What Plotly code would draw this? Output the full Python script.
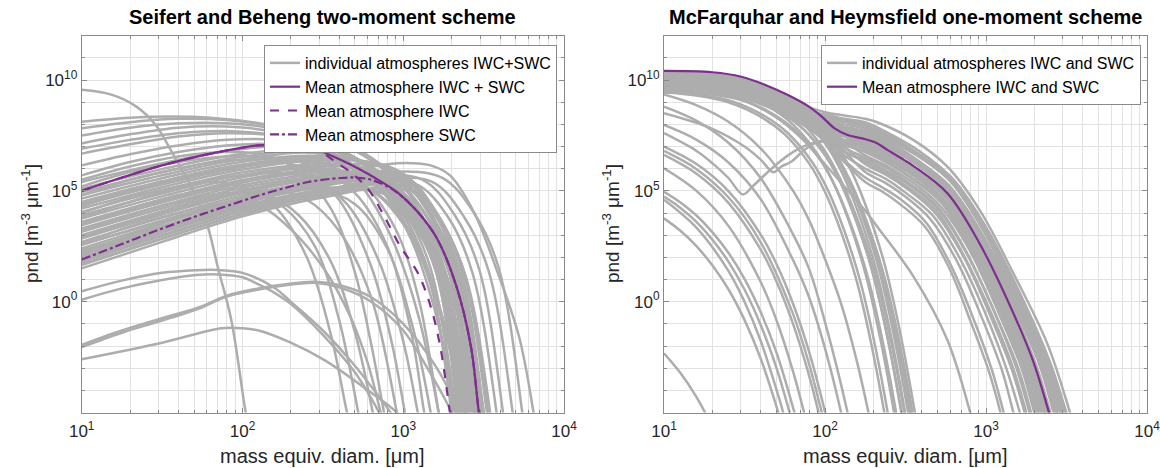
import plotly.graph_objects as go

# ------------------------------------------------------------------
# Values, stored as log10 numbers:
#   *_X : log10 of mass equivalent diameter [um]
#   *_Y : log10 of particle number density [m^-3 um^-1]
# ------------------------------------------------------------------

# ---------- Left panel: Seifert and Beheng two-moment scheme ----------
SB_MEAN_TOTAL_X = [1.0, 1.25, 1.5, 1.75, 2.0, 2.1, 2.25, 2.41, 2.61, 2.82, 2.96, 3.09, 3.21, 3.33, 3.42, 3.47, 3.5]
SB_MEAN_TOTAL_Y = [5.0, 5.6, 6.15, 6.6, 6.95, 7.05, 7.05, 6.98, 6.4, 5.6, 4.95, 4.05, 2.85, 0.7, -2.0, -5.0, -6.5]

SB_MEAN_IWC_X = [1.0, 1.25, 1.5, 1.75, 2.0, 2.1, 2.25, 2.41, 2.5, 2.58, 2.67, 2.78, 2.88, 2.98, 3.09, 3.17, 3.23, 3.29, 3.32]
SB_MEAN_IWC_Y = [5.0, 5.6, 6.15, 6.6, 6.95, 7.05, 7.04, 6.94, 6.7, 6.3, 5.85, 5.09, 3.88, 2.51, 1.3, -0.21, -2.03, -5.0, -6.5]

SB_MEAN_SWC_X = [1.0, 1.25, 1.5, 1.75, 2.0, 2.1, 2.25, 2.41, 2.61, 2.71, 2.8, 2.9, 2.96, 3.09, 3.21, 3.33, 3.42, 3.47, 3.5]
SB_MEAN_SWC_Y = [1.9, 2.6, 3.3, 3.95, 4.55, 4.79, 5.1, 5.4, 5.58, 5.6, 5.5, 5.2, 4.93, 4.04, 2.84, 0.69, -2.01, -5.0, -6.5]

SB_UPPER = [
    ([1.0, 1.3, 1.55, 1.8, 2.1, 2.4, 2.6, 2.8, 3.0, 3.15, 3.3, 3.42, 3.5], [8.12, 8.3, 8.35, 8.3, 8.05, 7.6, 7.2, 6.5, 5.2, 3.4, 0.5, -3.0, -6.0]),
    ([1.0, 1.3, 1.6, 1.9, 2.2, 2.5, 2.7, 2.9, 3.05, 3.2, 3.35, 3.45], [7.82, 8.1, 8.25, 8.2, 7.9, 7.35, 6.8, 5.8, 4.4, 2.0, -1.8, -5.2]),
    ([1.0, 1.3, 1.6, 1.9, 2.2, 2.5, 2.7, 2.85, 3.0, 3.15, 3.3, 3.4], [7.5, 7.85, 8.05, 8.05, 7.8, 7.2, 6.5, 5.6, 4.0, 1.5, -2.2, -5.5]),
    ([1.0, 1.3, 1.6, 1.9, 2.2, 2.45, 2.65, 2.8, 2.95, 3.1, 3.22, 3.27], [7.14, 7.55, 7.85, 7.9, 7.65, 7.0, 6.0, 4.6, 2.5, -0.8, -5.0, -7.0]),
    ([1.0, 1.3, 1.6, 1.9, 2.2, 2.5, 2.7, 2.9, 3.05, 3.2, 3.33, 3.38], [6.9, 7.3, 7.6, 7.7, 7.5, 6.9, 6.1, 4.7, 2.8, -0.5, -5.0, -7.0]),
    ([1.0, 1.3, 1.6, 1.9, 2.2, 2.5, 2.75, 2.95, 3.15, 3.3, 3.45, 3.5], [6.68, 7.1, 7.45, 7.6, 7.5, 7.0, 6.2, 4.9, 2.6, -0.5, -5.0, -7.0]),
    ([1.0, 1.3, 1.6, 1.9, 2.2, 2.5, 2.75, 2.95, 3.15, 3.35, 3.5, 3.55], [6.15, 6.65, 7.05, 7.3, 7.3, 6.95, 6.2, 5.0, 2.8, -0.8, -5.0, -7.0]),
    ([1.0, 1.3, 1.6, 1.9, 2.2, 2.5, 2.75, 2.9, 3.05, 3.2, 3.35, 3.4], [5.7, 6.3, 6.75, 7.05, 7.1, 6.75, 5.9, 4.8, 3.0, 0.2, -4.0, -5.5]),
]

SB_EARLY = [
    ([1.0, 1.3, 1.6, 1.85, 2.1, 2.3, 2.51, 2.67, 2.78, 2.86, 2.9], [2.6, 3.4, 4.0, 4.4, 4.33, 3.27, 1.45, -0.67, -2.8, -5.0, -6.0]),
    ([1.0, 1.3, 1.6, 1.85, 2.05, 2.25, 2.45, 2.6, 2.72, 2.76], [3.5, 4.2, 4.8, 5.1, 5.0, 4.3, 2.5, -0.8, -5.0, -6.5]),
    ([1.0, 1.3, 1.6, 1.8, 2.0, 2.2, 2.4, 2.55, 2.65, 2.7], [4.0, 4.7, 5.2, 5.4, 5.2, 4.3, 2.0, -1.5, -5.0, -6.5]),
    ([1.0, 1.3, 1.6, 1.9, 2.15, 2.35, 2.55, 2.7, 2.81, 2.85], [3.2, 3.9, 4.5, 4.9, 4.8, 3.9, 1.8, -1.4, -5.0, -6.5]),
    ([1.0, 1.3, 1.6, 1.9, 2.2, 2.4, 2.6, 2.8, 2.96, 3.0], [2.9, 3.6, 4.3, 4.85, 5.0, 4.6, 3.2, 0.2, -5.0, -6.5]),
    ([1.0, 1.3, 1.6, 1.9, 2.15, 2.4, 2.6, 2.8, 2.93, 3.01, 3.05], [5.2, 5.85, 6.3, 6.55, 6.5, 5.9, 4.6, 1.6, -1.9, -5.0, -6.5]),
    ([1.0, 1.3, 1.6, 1.9, 2.2, 2.45, 2.65, 2.85, 3.0, 3.09, 3.13], [3.8, 4.5, 5.15, 5.6, 5.8, 5.5, 4.4, 1.8, -1.8, -5.0, -6.5]),
    ([1.0, 1.3, 1.6, 1.9, 2.2, 2.45, 2.7, 2.9, 3.05, 3.13, 3.17], [4.8, 5.5, 6.0, 6.35, 6.45, 6.1, 4.9, 2.5, -1.4, -5.0, -6.5]),
    ([1.0, 1.3, 1.6, 1.9, 2.2, 2.45, 2.7, 2.9, 3.05, 3.17, 3.2], [2.2, 3.0, 3.8, 4.5, 5.0, 5.1, 4.4, 2.4, -0.9, -5.0, -6.5]),
    ([1.0, 1.3, 1.6, 1.9, 2.2, 2.5, 2.75, 2.95, 3.1, 3.22, 3.26], [4.3, 5.0, 5.6, 6.05, 6.3, 6.2, 5.3, 3.3, 0.0, -5.0, -6.5]),
    ([1.0, 1.3, 1.6, 1.9, 2.15, 2.35, 2.55, 2.7, 2.8, 2.88, 2.92], [5.5, 6.1, 6.55, 6.75, 6.6, 5.9, 4.2, 1.3, -1.9, -5.0, -6.5]),
]

SB_MAIN = [
    ([1.0, 1.5, 2.0, 2.5, 3.04, 3.24, 3.39, 3.54, 3.60], [1.5, 2.7, 3.85, 4.7, 5.1, 3.5, 1.1, -5.0, -9.0]),
    ([1.0, 1.5, 2.0, 2.5, 3.00, 3.20, 3.35, 3.50, 3.56], [1.8, 2.97, 4.08, 4.88, 5.2, 3.6, 1.2, -5.0, -9.0]),
    ([1.0, 1.5, 2.0, 2.5, 2.97, 3.17, 3.32, 3.47, 3.53], [2.1, 3.25, 4.32, 5.05, 5.2, 3.6, 1.2, -5.0, -9.0]),
    ([1.0, 1.5, 2.0, 2.5, 3.02, 3.22, 3.37, 3.52, 3.58], [2.4, 3.52, 4.55, 5.23, 5.45, 3.85, 1.45, -5.0, -9.0]),
    ([1.0, 1.5, 2.0, 2.5, 2.94, 3.14, 3.29, 3.44, 3.50], [2.7, 3.79, 4.79, 5.41, 5.2, 3.6, 1.2, -5.0, -9.0]),
    ([1.0, 1.5, 2.0, 2.5, 2.90, 3.10, 3.25, 3.40, 3.46], [3.0, 4.07, 5.02, 5.59, 5.2, 3.6, 1.2, -5.0, -9.0]),
    ([1.0, 1.5, 2.0, 2.5, 2.96, 3.16, 3.31, 3.46, 3.52], [3.3, 4.34, 5.25, 5.76, 5.6, 4.0, 1.6, -5.0, -9.0]),
    ([1.0, 1.5, 2.0, 2.5, 2.88, 3.08, 3.23, 3.38, 3.44], [3.6, 4.61, 5.49, 5.94, 5.3, 3.7, 1.3, -5.0, -9.0]),
    ([1.0, 1.5, 2.0, 2.5, 2.92, 3.12, 3.27, 3.42, 3.48], [3.9, 4.88, 5.72, 6.12, 5.7, 4.1, 1.7, -5.0, -9.0]),
    ([1.0, 1.5, 2.0, 2.5, 2.85, 3.05, 3.20, 3.35, 3.41], [4.2, 5.16, 5.96, 6.29, 5.4, 3.8, 1.4, -5.0, -9.0]),
    ([1.0, 1.5, 2.0, 2.5, 2.86, 3.06, 3.21, 3.36, 3.42], [4.5, 5.43, 6.19, 6.47, 5.6, 4.0, 1.6, -5.0, -9.0]),
    ([1.0, 1.5, 2.0, 2.5, 2.82, 3.02, 3.17, 3.32, 3.38], [4.8, 5.70, 6.42, 6.65, 5.5, 3.9, 1.5, -5.0, -9.0]),
    ([1.0, 1.5, 2.0, 2.5, 2.80, 3.00, 3.15, 3.30, 3.36], [5.1, 5.98, 6.66, 6.82, 5.5, 3.9, 1.5, -5.0, -9.0]),
    ([1.0, 1.5, 2.0, 2.5, 2.84, 3.04, 3.19, 3.34, 3.40], [5.4, 6.25, 6.89, 7.0, 5.9, 4.3, 1.9, -5.0, -9.0]),
    ([1.0, 1.5, 2.0, 2.5, 2.90, 3.10, 3.25, 3.40, 3.46], [2.0, 3.16, 4.24, 4.99, 4.8, 3.2, 0.8, -5.0, -9.0]),
    ([1.0, 1.5, 2.0, 2.5, 2.99, 3.19, 3.34, 3.49, 3.55], [2.9, 3.97, 4.94, 5.53, 5.6, 4.0, 1.6, -5.0, -9.0]),
    ([1.0, 1.5, 2.0, 2.5, 2.81, 3.01, 3.16, 3.31, 3.37], [3.5, 4.52, 5.41, 5.88, 5.0, 3.4, 1.0, -5.0, -9.0]),
    ([1.0, 1.5, 2.0, 2.5, 2.94, 3.14, 3.29, 3.44, 3.50], [4.4, 5.34, 6.11, 6.41, 6.0, 4.4, 2.0, -5.0, -9.0]),
    ([1.0, 1.5, 2.0, 2.5, 2.95, 3.15, 3.30, 3.45, 3.51], [1.65, 2.84, 3.97, 4.79, 5.0, 3.4, 1.0, -5.0, -9.0]),
    ([1.0, 1.5, 2.0, 2.5, 3.03, 3.23, 3.38, 3.53, 3.59], [1.95, 3.11, 4.2, 4.97, 5.3, 3.7, 1.3, -5.0, -9.0]),
    ([1.0, 1.5, 2.0, 2.5, 2.88, 3.08, 3.23, 3.38, 3.44], [2.25, 3.38, 4.44, 5.14, 4.9, 3.3, 0.9, -5.0, -9.0]),
    ([1.0, 1.5, 2.0, 2.5, 2.98, 3.18, 3.33, 3.48, 3.54], [2.55, 3.66, 4.67, 5.32, 5.4, 3.8, 1.4, -5.0, -9.0]),
    ([1.0, 1.5, 2.0, 2.5, 2.83, 3.03, 3.18, 3.33, 3.39], [2.85, 3.93, 4.9, 5.5, 4.9, 3.3, 0.9, -5.0, -9.0]),
    ([1.0, 1.5, 2.0, 2.5, 3.00, 3.20, 3.35, 3.50, 3.56], [3.15, 4.2, 5.14, 5.67, 5.7, 4.1, 1.7, -5.0, -9.0]),
    ([1.0, 1.5, 2.0, 2.5, 2.91, 3.11, 3.26, 3.41, 3.47], [3.45, 4.47, 5.37, 5.85, 5.4, 3.8, 1.4, -5.0, -9.0]),
    ([1.0, 1.5, 2.0, 2.5, 2.86, 3.06, 3.21, 3.36, 3.42], [3.75, 4.75, 5.61, 6.03, 5.3, 3.7, 1.3, -5.0, -9.0]),
    ([1.0, 1.5, 2.0, 2.5, 2.97, 3.17, 3.32, 3.47, 3.53], [4.05, 5.02, 5.84, 6.2, 5.9, 4.3, 1.9, -5.0, -9.0]),
    ([1.0, 1.5, 2.0, 2.5, 2.89, 3.09, 3.24, 3.39, 3.45], [4.35, 5.29, 6.07, 6.38, 5.6, 4.0, 1.6, -5.0, -9.0]),
    ([1.0, 1.5, 2.0, 2.5, 2.93, 3.13, 3.28, 3.43, 3.49], [4.65, 5.57, 6.31, 6.56, 5.9, 4.3, 1.9, -5.0, -9.0]),
    ([1.0, 1.5, 2.0, 2.5, 2.87, 3.07, 3.22, 3.37, 3.43], [4.95, 5.84, 6.54, 6.74, 5.7, 4.1, 1.7, -5.0, -9.0]),
]

SB_OUTER = [
    ([1.0, 1.5, 2.0, 2.5, 2.8, 3.08, 3.28, 3.43, 3.58, 3.64], [1.7, 2.85, 3.95, 4.9, 5.3, 5.3, 3.8, 1.3, -5.0, -9.0]),
    ([1.0, 1.5, 2.0, 2.5, 2.8, 3.12, 3.32, 3.47, 3.62, 3.68], [2.3, 3.4, 4.45, 5.3, 5.65, 5.5, 3.9, 1.5, -5.0, -9.0]),
    ([1.0, 1.5, 2.0, 2.5, 2.85, 3.18, 3.38, 3.53, 3.68, 3.74], [1.9, 3.0, 4.1, 5.0, 5.5, 5.4, 3.8, 1.4, -5.0, -9.0]),
    ([1.0, 1.5, 2.0, 2.5, 2.9, 3.24, 3.44, 3.59, 3.74, 3.8], [2.6, 3.6, 4.6, 5.4, 5.85, 5.6, 4.0, 1.6, -5.0, -9.0]),
    ([1.0, 1.5, 2.0, 2.5, 2.75, 2.9, 3.05, 3.17, 3.29, 3.44, 3.58, 3.72, 3.81, 3.85], [2.2, 3.3, 4.4, 5.5, 6.0, 6.2, 6.25, 6.15, 5.7, 4.03, 1.45, -1.58, -5.0, -7.0]),
]

SB_LOW = [
    ([1.0, 1.25, 1.5, 1.71, 1.85, 2.0, 2.2, 2.3, 2.5, 2.7, 2.85, 2.92, 2.96], [0.47, 0.95, 1.3, 1.42, 1.43, 1.3, 0.62, 0.0, -1.3, -2.9, -4.3, -5.0, -5.6]),
    ([1.0, 1.25, 1.5, 1.71, 1.85, 2.0, 2.08, 2.2, 2.3, 2.5, 2.7, 2.85, 2.9], [0.09, 0.6, 0.98, 1.2, 1.23, 1.1, 0.85, 0.4, -0.1, -1.5, -3.2, -5.0, -5.7]),
    ([1.0, 1.25, 1.5, 1.75, 1.89, 2.1, 2.28, 2.45, 2.6, 2.8, 3.0, 3.2, 3.35, 3.4], [-1.95, -1.3, -0.75, -0.2, 0.24, 0.6, 0.8, 0.9, 0.75, 0.2, -1.0, -2.9, -5.0, -6.0]),
    ([1.0, 1.25, 1.5, 1.75, 1.89, 2.1, 2.28, 2.45, 2.6, 2.8, 3.0, 3.15, 3.3, 3.35], [-2.05, -1.4, -0.85, -0.25, 0.2, 0.55, 0.75, 0.85, 0.65, 0.0, -1.3, -3.0, -5.0, -6.0]),
    ([1.0, 1.5, 1.87, 2.0, 2.1, 2.3, 2.51, 2.78, 2.96, 3.05], [-2.6, -1.85, -1.2, -1.2, -1.3, -1.85, -2.64, -4.0, -5.0, -5.8]),
    ([1.0, 1.19, 1.34, 1.46, 1.56, 1.67, 1.77, 1.85, 1.93, 2.02, 2.05], [9.56, 9.33, 8.8, 7.97, 6.76, 5.35, 3.73, 1.45, -0.82, -4.99, -6.0]),
]

# ---------- Right panel: McFarquhar and Heymsfield one-moment scheme ----------
MH_MEAN_X = [1.0, 1.3, 1.48, 1.63, 1.77, 1.9, 1.98, 2.06, 2.14, 2.23, 2.31, 2.39, 2.49, 2.55, 2.76, 2.96, 3.17, 3.29, 3.39, 3.44]
MH_MEAN_Y = [10.41, 10.35, 10.15, 9.78, 9.32, 8.8, 8.35, 7.82, 7.52, 7.37, 7.19, 6.84, 6.4, 6.12, 4.89, 2.63, -0.52, -2.63, -4.96, -6.2]

MH_SHOULDER = [
    ([1.0, 1.3, 1.5, 1.7, 1.85, 2.0, 2.12, 2.25, 2.34, 2.55, 2.76, 2.96, 3.17, 3.38, 3.52, 3.58], [10.0, 9.95, 9.75, 9.3, 8.9, 8.55, 8.4, 8.25, 8.05, 7.29, 6.09, 4.14, 1.28, -1.88, -4.96, -6.5]),
    ([1.0, 1.3, 1.5, 1.7, 1.85, 2.0, 2.12, 2.25, 2.41, 2.57, 2.79, 3.01, 3.22, 3.38, 3.48, 3.55], [10.2, 10.14, 9.9, 9.36, 8.79, 8.4, 8.2, 8.0, 7.44, 6.73, 5.49, 3.18, 0.0, -2.74, -5.0, -6.56]),
    ([1.0, 1.3, 1.5, 1.7, 1.85, 2.0, 2.12, 2.25, 2.41, 2.57, 2.78, 2.99, 3.20, 3.36, 3.45, 3.51], [9.9, 9.84, 9.6, 9.06, 8.5, 8.3, 8.1, 7.9, 7.35, 6.64, 5.41, 3.11, -0.03, -2.76, -5.0, -6.55]),
    ([1.0, 1.3, 1.5, 1.7, 1.85, 2.0, 2.12, 2.25, 2.41, 2.56, 2.77, 2.98, 3.19, 3.35, 3.44, 3.50], [10.35, 10.29, 10.05, 9.51, 8.94, 8.2, 7.9, 7.7, 7.15, 6.46, 5.25, 2.99, -0.11, -2.79, -5.0, -6.52]),
    ([1.0, 1.3, 1.5, 1.7, 1.85, 2.0, 2.12, 2.25, 2.40, 2.56, 2.76, 2.97, 3.17, 3.33, 3.42, 3.48], [10.1, 10.04, 9.8, 9.26, 8.69, 8.0, 7.8, 7.6, 7.06, 6.37, 5.17, 2.93, -0.15, -2.81, -5.0, -6.51]),
    ([1.0, 1.3, 1.5, 1.7, 1.85, 2.0, 2.12, 2.25, 2.40, 2.55, 2.75, 2.96, 3.16, 3.31, 3.40, 3.46], [9.8, 9.74, 9.5, 8.96, 8.39, 7.9, 7.7, 7.5, 6.96, 6.28, 5.09, 2.86, -0.19, -2.83, -5.0, -6.5]),
    ([1.0, 1.3, 1.5, 1.7, 1.85, 2.0, 2.12, 2.25, 2.40, 2.55, 2.74, 2.94, 3.13, 3.28, 3.37, 3.43], [10.25, 10.19, 9.95, 9.41, 8.84, 8.05, 7.45, 7.2, 6.68, 6.0, 4.85, 2.67, -0.3, -2.88, -5.0, -6.46]),
    ([1.0, 1.3, 1.5, 1.7, 1.85, 2.0, 2.12, 2.25, 2.40, 2.54, 2.74, 2.93, 3.13, 3.27, 3.36, 3.42], [9.7, 9.64, 9.4, 8.86, 8.29, 7.6, 7.3, 7.1, 6.58, 5.91, 4.76, 2.61, -0.34, -2.89, -5.0, -6.45]),
    ([1.0, 1.3, 1.5, 1.7, 1.85, 2.0, 2.12, 2.25, 2.39, 2.54, 2.73, 2.92, 3.11, 3.25, 3.34, 3.40], [10.0, 9.94, 9.7, 9.16, 8.59, 7.8, 7.2, 6.9, 6.39, 5.73, 4.6, 2.49, -0.42, -2.93, -5.0, -6.43]),
    ([1.0, 1.3, 1.5, 1.7, 1.85, 2.0, 2.12, 2.25, 2.39, 2.53, 2.72, 2.91, 3.10, 3.24, 3.32, 3.38], [9.6, 9.54, 9.3, 8.76, 8.19, 7.45, 7.05, 6.8, 6.29, 5.64, 4.52, 2.42, -0.46, -2.95, -5.0, -6.42]),
    ([1.0, 1.3, 1.5, 1.7, 1.85, 2.0, 2.12, 2.25, 2.39, 2.53, 2.71, 2.90, 3.08, 3.22, 3.30, 3.36], [10.15, 10.09, 9.85, 9.31, 8.74, 7.95, 7.25, 6.6, 6.1, 5.46, 4.36, 2.3, -0.53, -2.98, -5.0, -6.39]),
    ([1.0, 1.3, 1.5, 1.7, 1.85, 2.0, 2.12, 2.25, 2.38, 2.52, 2.70, 2.88, 3.06, 3.19, 3.27, 3.32], [9.55, 9.49, 9.25, 8.71, 8.14, 7.35, 6.75, 6.4, 5.91, 5.28, 4.2, 2.17, -0.61, -3.02, -5.0, -6.37]),
    ([1.0, 1.3, 1.5, 1.7, 1.85, 2.0, 2.12, 2.25, 2.38, 2.51, 2.68, 2.86, 3.03, 3.16, 3.24, 3.29], [9.9, 9.84, 9.6, 9.06, 8.49, 7.7, 7.0, 6.2, 5.72, 5.1, 4.04, 2.04, -0.69, -3.05, -5.0, -6.34]),
    ([1.0, 1.3, 1.5, 1.7, 1.85, 2.0, 2.12, 2.25, 2.38, 2.50, 2.67, 2.84, 3.01, 3.13, 3.21, 3.26], [9.5, 9.44, 9.2, 8.66, 8.09, 7.3, 6.6, 6.0, 5.53, 4.92, 3.88, 1.92, -0.77, -3.09, -5.0, -6.32]),
    ([1.0, 1.3, 1.5, 1.7, 1.85, 2.0, 2.12, 2.25, 2.36, 2.48, 2.63, 2.78, 2.93, 3.04, 3.11, 3.16], [9.75, 9.69, 9.45, 8.91, 8.34, 7.55, 6.4, 5.6, 5.14, 4.56, 3.55, 1.67, -0.92, -3.16, -5.0, -6.27]),
    ([1.0, 1.3, 1.5, 1.7, 1.85, 2.0, 2.12, 2.25, 2.36, 2.47, 2.62, 2.77, 2.91, 3.02, 3.09, 3.13], [9.45, 9.39, 9.15, 8.61, 8.04, 7.25, 6.3, 5.4, 4.95, 4.38, 3.39, 1.54, -1.0, -3.19, -5.0, -6.25]),
    ([1.0, 1.3, 1.5, 1.7, 1.85, 2.0, 2.12, 2.25, 2.34, 2.55, 2.76, 2.9, 2.95], [9.45, 9.35, 9.05, 8.3, 7.4, 6.2, 5.2, 4.1, 3.23, 1.13, -1.73, -4.96, -6.5]),
    ([1.0, 1.3, 1.5, 1.7, 1.85, 2.0, 2.12, 2.25, 2.41, 2.57, 2.78, 2.99, 3.21, 3.36, 3.46, 3.52], [10.05, 9.99, 9.75, 9.21, 8.64, 7.9, 7.6, 7.4, 6.87, 6.18, 5.01, 2.8, -0.23, -2.84, -5.0, -6.49]),
    ([1.0, 1.3, 1.5, 1.7, 1.85, 2.0, 2.12, 2.25, 2.41, 2.58, 2.80, 3.02, 3.24, 3.40, 3.50, 3.57], [9.65, 9.59, 9.35, 8.81, 8.4, 8.2, 8.0, 7.8, 7.25, 6.55, 5.33, 3.05, -0.07, -2.77, -5.0, -6.54]),
    ([1.0, 1.3, 1.5, 1.7, 1.85, 2.0, 2.12, 2.25, 2.39, 2.52, 2.70, 2.88, 3.06, 3.20, 3.28, 3.33], [9.85, 9.79, 9.55, 9.01, 8.44, 7.65, 6.95, 6.5, 6.0, 5.37, 4.28, 2.23, -0.57, -3.0, -5.0, -6.38]),
    ([1.0, 1.3, 1.5, 1.7, 1.85, 2.0, 2.12, 2.25, 2.41, 2.57, 2.79, 3.00, 3.21, 3.37, 3.47, 3.53], [10.3, 10.24, 10.0, 9.46, 8.89, 8.35, 8.15, 7.95, 7.39, 6.68, 5.45, 3.15, -0.01, -2.75, -5.0, -6.55]),
    ([1.0, 1.3, 1.5, 1.7, 1.85, 2.0, 2.12, 2.25, 2.41, 2.56, 2.77, 2.98, 3.18, 3.34, 3.43, 3.49], [9.75, 9.69, 9.45, 8.91, 8.4, 8.05, 7.85, 7.65, 7.11, 6.41, 5.21, 2.96, -0.13, -2.8, -5.0, -6.52]),
    ([1.0, 1.3, 1.5, 1.7, 1.85, 2.0, 2.12, 2.25, 2.40, 2.55, 2.75, 2.95, 3.15, 3.30, 3.39, 3.45], [10.2, 10.14, 9.9, 9.36, 8.79, 8.0, 7.5, 7.3, 6.77, 6.09, 4.93, 2.74, -0.26, -2.86, -5.0, -6.48]),
    ([1.0, 1.3, 1.5, 1.7, 1.85, 2.0, 2.12, 2.25, 2.40, 2.54, 2.73, 2.93, 3.12, 3.26, 3.35, 3.41], [9.6, 9.54, 9.3, 8.76, 8.19, 7.4, 7.2, 7.0, 6.48, 5.82, 4.68, 2.55, -0.38, -2.91, -5.0, -6.44]),
    ([1.0, 1.3, 1.5, 1.7, 1.85, 2.0, 2.12, 2.25, 2.39, 2.53, 2.72, 2.90, 3.09, 3.23, 3.31, 3.37], [10.05, 9.99, 9.75, 9.21, 8.64, 7.85, 7.15, 6.75, 6.24, 5.6, 4.48, 2.39, -0.48, -2.96, -5.0, -6.41]),
    ([1.0, 1.3, 1.5, 1.7, 1.85, 2.0, 2.12, 2.25, 2.38, 2.51, 2.69, 2.86, 3.04, 3.17, 3.25, 3.30], [9.7, 9.64, 9.4, 8.86, 8.29, 7.5, 6.8, 6.3, 5.81, 5.19, 4.12, 2.11, -0.65, -3.03, -5.0, -6.36]),
    ([1.0, 1.3, 1.5, 1.7, 1.85, 2.0, 2.12, 2.25, 2.41, 2.56, 2.77, 2.98, 3.19, 3.35, 3.44, 3.50], [10.3, 10.24, 10.0, 9.46, 8.89, 8.1, 7.7, 7.5, 6.96, 6.28, 5.09, 2.86, -0.19, -2.83, -5.0, -6.5]),
    ([1.0, 1.3, 1.5, 1.7, 1.85, 2.0, 2.12, 2.25, 2.40, 2.55, 2.75, 2.94, 3.14, 3.29, 3.38, 3.44], [9.55, 9.49, 9.25, 8.71, 8.14, 7.65, 7.45, 7.25, 6.72, 6.05, 4.89, 2.71, -0.28, -2.87, -5.0, -6.47]),
    ([1.0, 1.3, 1.5, 1.7, 1.85, 2.0, 2.12, 2.25, 2.37, 2.49, 2.65, 2.82, 2.98, 3.10, 3.17, 3.22], [9.95, 9.89, 9.65, 9.11, 8.54, 7.75, 6.8, 5.85, 5.38, 4.79, 3.76, 1.82, -0.82, -3.11, -5.0, -6.3]),
    ([1.0, 1.3, 1.5, 1.7, 1.85, 2.0, 2.12, 2.25, 2.41, 2.58, 2.79, 3.01, 3.23, 3.39, 3.49, 3.56], [9.85, 9.79, 9.55, 9.01, 8.65, 8.45, 8.25, 8.1, 7.54, 6.82, 5.57, 3.24, 0.04, -2.72, -5.0, -6.57]),
]

MH_KINKED = [
    ([1.0, 1.2, 1.3, 1.4, 1.49, 1.55, 1.63, 1.7, 1.77, 1.85, 1.94, 2.05, 2.25, 2.41, 2.55, 2.75, 2.94, 3.14, 3.28, 3.37, 3.43],
     [7.6, 6.81, 6.25, 5.58, 4.84, 5.2, 5.75, 6.2, 6.6, 6.95, 7.2, 7.3, 7.15, 6.6, 5.95, 4.8, 2.65, -0.3, -2.85, -5.0, -6.4]),
    ([1.0, 1.3, 1.5, 1.6, 1.68, 1.73, 1.79, 1.86, 1.94, 2.05, 2.25, 2.39, 2.53, 2.72, 2.91, 3.10, 3.25, 3.33, 3.39],
     [8.5, 7.8, 7.0, 6.41, 5.84, 6.1, 6.31, 6.77, 7.15, 7.25, 7.0, 6.45, 5.8, 4.65, 2.5, -0.4, -2.9, -5.0, -6.4]),
]

MH_EARLY = [
    ([1.0, 1.37, 1.57, 1.77, 1.92, 2.07, 2.17, 2.27, 2.37, 2.47, 2.57, 2.67], [10.3, 10.15, 9.85, 9.2, 8.4, 7.1, 5.8, 4.0, 1.7, -1.5, -5.5, -10.2]),
    ([1.0, 1.35, 1.55, 1.75, 1.9, 2.05, 2.15, 2.25, 2.35, 2.45, 2.55, 2.65], [10.0, 9.85, 9.55, 8.9, 8.1, 6.8, 5.5, 3.7, 1.4, -1.8, -5.8, -10.5]),
    ([1.0, 1.3, 1.5, 1.7, 1.85, 2.0, 2.1, 2.2, 2.3, 2.4, 2.5, 2.6], [9.8, 9.65, 9.35, 8.7, 7.9, 6.6, 5.3, 3.5, 1.2, -2.0, -6.0, -10.7]),
    ([1.0, 1.33, 1.53, 1.73, 1.88, 2.03, 2.13, 2.23, 2.33, 2.43, 2.53, 2.63], [10.2, 10.05, 9.75, 9.1, 8.3, 7.0, 5.7, 3.9, 1.6, -1.6, -5.6, -10.3]),
    ([1.0, 1.27, 1.47, 1.67, 1.82, 1.97, 2.07, 2.17, 2.27, 2.37, 2.47, 2.57], [9.6, 9.45, 9.15, 8.5, 7.7, 6.4, 5.1, 3.3, 1.0, -2.2, -6.2, -10.9]),
    ([1.0, 1.25, 1.45, 1.65, 1.8, 1.95, 2.05, 2.15, 2.25, 2.35, 2.45, 2.55], [9.9, 9.75, 9.45, 8.8, 8.0, 6.7, 5.4, 3.6, 1.3, -1.9, -5.9, -10.6]),
    ([1.0, 1.29, 1.49, 1.69, 1.84, 1.99, 2.09, 2.19, 2.29, 2.39, 2.49, 2.59], [10.1, 9.95, 9.65, 9.0, 8.2, 6.9, 5.6, 3.8, 1.5, -1.7, -5.7, -10.4]),
    ([1.0, 1.22, 1.42, 1.62, 1.77, 1.92, 2.02, 2.12, 2.22, 2.32, 2.42, 2.52], [9.5, 9.35, 9.05, 8.4, 7.6, 6.3, 5.0, 3.2, 0.9, -2.3, -6.3, -11.0]),
    ([1.0, 1.37, 1.57, 1.77, 1.92, 2.07, 2.17, 2.27, 2.37, 2.47, 2.57, 2.67], [9.7, 9.55, 9.25, 8.6, 7.8, 6.5, 5.2, 3.4, 1.1, -2.1, -6.1, -10.8]),
    ([1.0, 1.31, 1.51, 1.71, 1.86, 2.01, 2.11, 2.21, 2.31, 2.41, 2.51, 2.61], [10.25, 10.1, 9.8, 9.15, 8.35, 7.05, 5.75, 3.95, 1.65, -1.55, -5.55, -10.25]),
    ([1.0, 1.2, 1.4, 1.6, 1.75, 1.9, 2.0, 2.1, 2.2, 2.3, 2.4, 2.5], [9.45, 9.3, 9.0, 8.35, 7.55, 6.25, 4.95, 3.15, 0.85, -2.35, -6.35, -11.05]),
    ([1.0, 1.35, 1.55, 1.75, 1.9, 2.05, 2.15, 2.25, 2.35, 2.45, 2.55, 2.65], [10.05, 9.9, 9.6, 8.95, 8.15, 6.85, 5.55, 3.75, 1.45, -1.75, -5.75, -10.45]),
    ([1.0, 1.32, 1.52, 1.72, 1.87, 2.02, 2.12, 2.22, 2.32, 2.42, 2.52, 2.62], [9.65, 9.5, 9.2, 8.55, 7.75, 6.45, 5.15, 3.35, 1.05, -2.15, -6.15, -10.85]),
    ([1.0, 1.35, 1.55, 1.75, 1.9, 2.05, 2.15, 2.25, 2.35, 2.45, 2.55, 2.65], [9.9, 9.75, 9.45, 8.8, 8.0, 6.7, 5.4, 3.6, 1.3, -1.9, -5.9, -10.6]),
]

MH_LOW = [
    ([1.0, 1.1, 1.2, 1.255, 1.3], [-2.33, -3.2, -4.28, -5.0, -5.67]),
    ([1.0, 1.1, 1.2, 1.3, 1.4, 1.5, 1.6, 1.71, 1.75], [3.76, 3.21, 2.52, 1.64, 0.56, -0.82, -2.56, -5.0, -6.03]),
    ([1.0, 1.1, 1.2, 1.3, 1.4, 1.5, 1.6, 1.7, 1.78, 1.82], [4.74, 4.24, 3.61, 2.8, 1.81, 0.55, -1.04, -3.02, -5.0, -6.14]),
    ([1.0, 1.1, 1.2, 1.3, 1.4, 1.5, 1.6, 1.7, 1.81, 1.85], [4.96, 4.49, 3.9, 3.14, 2.21, 1.03, -0.46, -2.32, -5.0, -6.1]),
    ([1.0, 1.2, 1.4, 1.6, 1.7, 1.8, 1.87, 1.9], [6.02, 5.01, 3.42, 0.9, -0.86, -3.11, -5.0, -5.92]),
    ([1.0, 1.2, 1.4, 1.6, 1.7, 1.8, 1.9, 1.96, 2.0], [6.62, 5.78, 4.46, 2.36, 0.89, -0.97, -3.3, -5.0, -6.25]),
    ([1.0, 1.2, 1.4, 1.6, 1.7, 1.8, 1.9, 2.0, 2.05], [7.0, 6.22, 4.99, 3.04, 1.68, -0.06, -2.23, -4.97, -6.6]),
    ([1.0, 1.2, 1.4, 1.6, 1.8, 1.9, 2.0, 2.1, 2.15], [7.97, 7.31, 6.28, 4.63, 1.9, 0.22, -2.11, -5.0, -6.7]),
    ([1.0, 1.2, 1.4, 1.6, 1.8, 1.9, 2.0, 2.14, 2.2], [8.8, 8.17, 7.17, 5.58, 3.06, 1.5, -0.92, -5.0, -7.24]),
    ([1.0, 1.2, 1.4, 1.6, 1.8, 1.9, 2.0, 2.1, 2.2, 2.27, 2.3], [9.35, 8.87, 8.12, 6.92, 5.02, 3.69, 1.92, -0.09, -2.75, -5.0, -6.09]),
    ([1.0, 1.2, 1.4, 1.5, 1.6, 1.7, 1.74, 1.78], [4.6, 3.35, 1.39, 0.0, -1.75, -4.0, -5.0, -6.3]),
    ([1.0, 1.2, 1.4, 1.6, 1.8, 1.9, 1.98, 2.02], [6.8, 5.99, 4.71, 2.69, -0.53, -2.78, -5.0, -6.2]),
]

# ---------------- labels ----------------
TITLE_LEFT = "Seifert and Beheng two-moment scheme"
TITLE_RIGHT = "McFarquhar and Heymsfield one-moment scheme"
XLABEL = "mass equiv. diam. [μm]"
YLABEL = "pnd [m<sup>-3</sup> μm<sup>-1</sup>]"
LEG_LEFT = ["individual atmospheres IWC+SWC", "Mean atmosphere IWC + SWC",
            "Mean atmosphere IWC", "Mean atmosphere SWC"]
LEG_RIGHT = ["individual atmospheres IWC and SWC", "Mean atmosphere IWC and SWC"]
X_MAJOR_EXP = [1, 2, 3, 4]
Y_MAJOR_EXP = [0, 5, 10]

# ---------------- styling ----------------
GRAY = "#adadad"
PURPLE = "#7E2F8E"
FONT = "Liberation Sans, Arial, Helvetica, sans-serif"
TXT = "#262626"
FRAME = "#8a8a8a"
GRID = "#e2e2e2"

W, H = 1160, 468


def p10(v):
    return [10.0 ** a for a in v]


fig = go.Figure()


def add_gray(curves, xa, ya, name, legend):
    shown = True
    for cx, cy in curves:
        fig.add_trace(go.Scatter(
            x=p10(cx), y=p10(cy), mode="lines", xaxis=xa, yaxis=ya,
            line=dict(color=GRAY, width=2.5, shape="spline", smoothing=1.0),
            name=name, legend=legend, showlegend=shown, legendgroup=name,
            hoverinfo="skip"))
        shown = False


# left panel grays
add_gray(SB_MAIN + SB_UPPER + SB_EARLY + SB_OUTER + SB_LOW, "x", "y", LEG_LEFT[0], "legend")
# left panel means
fig.add_trace(go.Scatter(x=p10(SB_MEAN_TOTAL_X), y=p10(SB_MEAN_TOTAL_Y), mode="lines",
                         xaxis="x", yaxis="y", legend="legend", name=LEG_LEFT[1],
                         line=dict(color=PURPLE, width=2.2, shape="spline")))
fig.add_trace(go.Scatter(x=p10(SB_MEAN_IWC_X), y=p10(SB_MEAN_IWC_Y), mode="lines",
                         xaxis="x", yaxis="y", legend="legend", name=LEG_LEFT[2],
                         line=dict(color=PURPLE, width=2.2, dash="dash", shape="spline")))
fig.add_trace(go.Scatter(x=p10(SB_MEAN_SWC_X), y=p10(SB_MEAN_SWC_Y), mode="lines",
                         xaxis="x", yaxis="y", legend="legend", name=LEG_LEFT[3],
                         line=dict(color=PURPLE, width=2.2, dash="dashdot", shape="spline")))

# right panel grays and mean
add_gray(MH_SHOULDER + MH_KINKED + MH_EARLY + MH_LOW, "x2", "y2", LEG_RIGHT[0], "legend2")
fig.add_trace(go.Scatter(x=p10(MH_MEAN_X), y=p10(MH_MEAN_Y), mode="lines",
                         xaxis="x2", yaxis="y2", legend="legend2", name=LEG_RIGHT[1],
                         line=dict(color=PURPLE, width=2.2, shape="spline")))

# ---------------- axes ----------------
x_minor = [m * 10 ** e for e in (1, 2, 3) for m in range(2, 10)]
y_minor = [10.0 ** e for e in range(-5, 13) if e not in Y_MAJOR_EXP]


def common_axis():
    return dict(type="log", tickmode="array",
                ticks="inside", ticklen=5, tickcolor=FRAME, tickwidth=1,
                showline=True, linecolor=FRAME, linewidth=1, mirror="allticks",
                showgrid=True, gridcolor=GRID, gridwidth=1, zeroline=False,
                automargin=False, fixedrange=True, ticklabeloverflow="allow",
                tickfont=dict(family=FONT, size=17, color=TXT))


def xaxis(domain, anchor):
    d = common_axis()
    d.update(range=[1, 4], domain=domain, anchor=anchor, ticklabelstandoff=3,
             tickvals=[10 ** e for e in X_MAJOR_EXP],
             ticktext=["10<sup>%d</sup>" % e for e in X_MAJOR_EXP],
             minor=dict(tickmode="array", tickvals=x_minor, ticks="inside",
                        ticklen=3, tickcolor=FRAME, showgrid=True, gridcolor=GRID))
    return d


def yaxis(domain, anchor):
    d = common_axis()
    d.update(range=[-5, 12], domain=domain, anchor=anchor,
             tickvals=[10.0 ** e for e in Y_MAJOR_EXP],
             ticktext=["10<sup>%d</sup>" % e for e in Y_MAJOR_EXP],
             minor=dict(tickmode="array", tickvals=y_minor, ticks="inside",
                        ticklen=3, tickcolor=FRAME, showgrid=True, gridcolor=GRID))
    return d


LX = [81.7 / W, 564.1 / W]
RX = [664.0 / W, 1147.0 / W]
YD = [1 - 412.5 / H, 1 - 35.7 / H]

legend_common = dict(bgcolor="white", bordercolor=FRAME, borderwidth=1,
                     font=dict(family=FONT, size=16, color="black"),
                     xanchor="right", yanchor="top", itemwidth=30, tracegroupgap=0)

fig.update_layout(
    template="none",
    width=W, height=H, margin=dict(l=0, r=0, t=0, b=0, pad=0, autoexpand=False),
    paper_bgcolor="white", plot_bgcolor="white",
    xaxis=xaxis(LX, "y"), yaxis=yaxis(YD, "x"),
    xaxis2=xaxis(RX, "y2"), yaxis2=yaxis(YD, "x2"),
    legend=dict(x=557 / W, y=1 - 45 / H, **legend_common),
    legend2=dict(x=1141 / W, y=1 - 45 / H, **legend_common),
    font=dict(family=FONT, color=TXT),
    hovermode=False,
    annotations=[
        dict(text="<b>%s</b>" % TITLE_LEFT, x=(LX[0] + LX[1]) / 2, y=1 - 17 / H,
             xref="paper", yref="paper", showarrow=False, xanchor="center", yanchor="middle",
             font=dict(family=FONT, size=20, color="black")),
        dict(text="<b>%s</b>" % TITLE_RIGHT, x=(RX[0] + RX[1]) / 2, y=1 - 17 / H,
             xref="paper", yref="paper", showarrow=False, xanchor="center", yanchor="middle",
             font=dict(family=FONT, size=20, color="black")),
        dict(text=XLABEL, x=(LX[0] + LX[1]) / 2, y=1 - 456 / H, xref="paper", yref="paper",
             showarrow=False, xanchor="center", yanchor="middle",
             font=dict(family=FONT, size=20, color=TXT)),
        dict(text=XLABEL, x=(RX[0] + RX[1]) / 2, y=1 - 456 / H, xref="paper", yref="paper",
             showarrow=False, xanchor="center", yanchor="middle",
             font=dict(family=FONT, size=20, color=TXT)),
        dict(text=YLABEL, x=30 / W, y=(YD[0] + YD[1]) / 2, xref="paper", yref="paper",
             showarrow=False, xanchor="center", yanchor="middle", textangle=-90,
             font=dict(family=FONT, size=19, color=TXT)),
        dict(text=YLABEL, x=611 / W, y=(YD[0] + YD[1]) / 2, xref="paper", yref="paper",
             showarrow=False, xanchor="center", yanchor="middle", textangle=-90,
             font=dict(family=FONT, size=19, color=TXT)),
    ],
)

fig.write_html("out.html", include_plotlyjs=True, full_html=True,
               config={"displayModeBar": False},
               post_script="document.body.style.margin='0';document.body.style.overflow='hidden';")
